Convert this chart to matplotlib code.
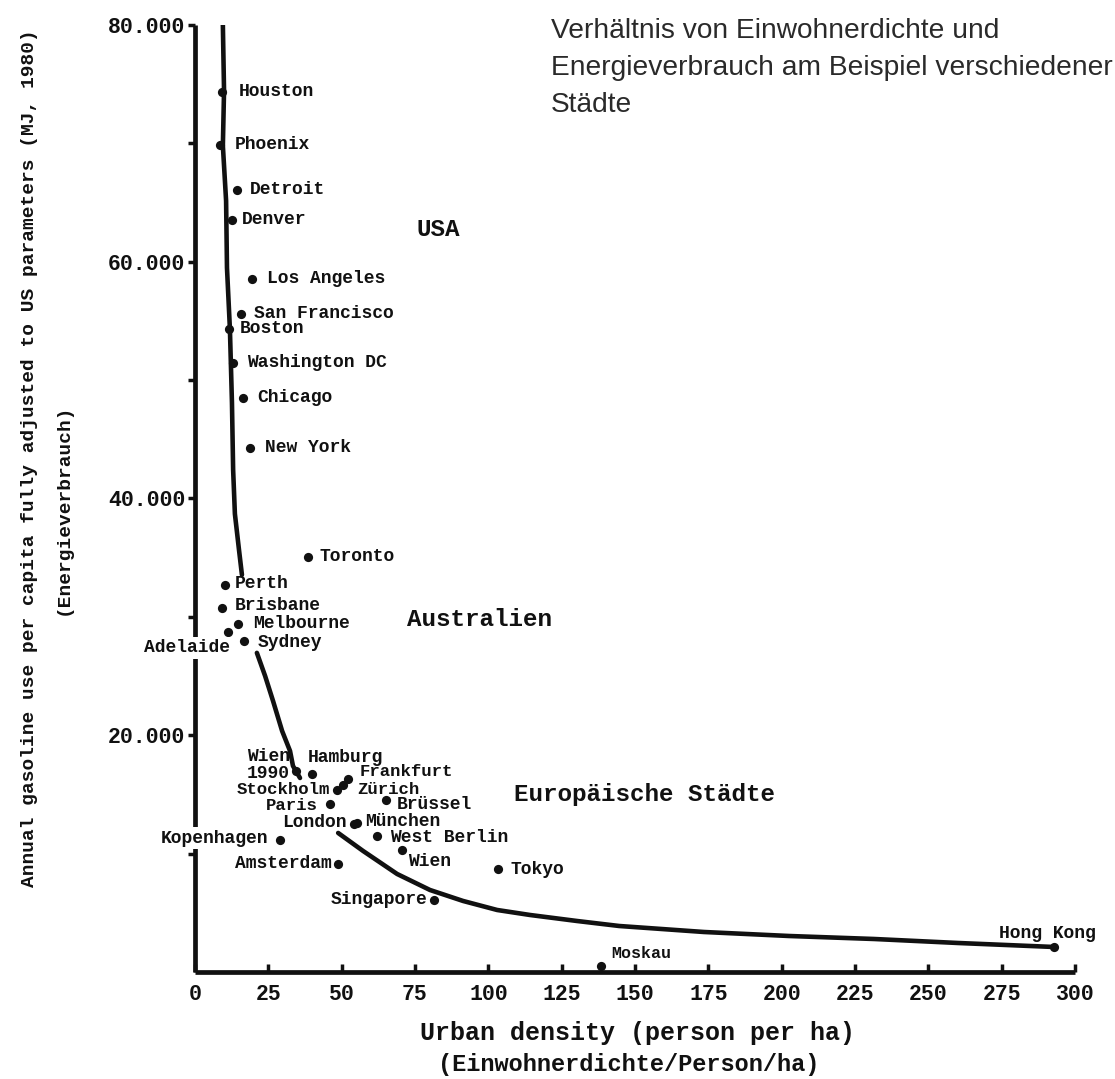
import matplotlib
matplotlib.use("Agg")
import matplotlib.pyplot as plt
import numpy as np

# ---------------- data ----------------
cities = ["Houston", "Phoenix", "Detroit", "Denver", "Los Angeles", "San Francisco",
          "Boston", "Washington DC", "Chicago", "New York", "Toronto",
          "Perth", "Brisbane", "Melbourne", "Adelaide", "Sydney",
          "Wien\n1990", "Hamburg", "Frankfurt", "Zürich", "Stockholm", "Paris",
          "Brüssel", "London", "München", "West Berlin", "Kopenhagen", "Wien",
          "Amsterdam", "Tokyo", "Singapore", "Moskau", "Hong Kong"]
density = [9.2, 8.5, 14.3, 12.6, 19.4, 15.7,
           11.6, 13.0, 16.4, 18.8, 38.5,
           10.2, 9.2, 14.7, 11.3, 16.7,
           34.4, 39.9, 52.2, 50.5, 48.4, 46.0,
           65.1, 54.2, 55.2, 62.1, 29.0, 70.6,
           48.8, 103.3, 81.5, 138.4, 292.9]
gasoline = [74360, 69880, 66080, 63540, 58560, 55600,
            54330, 51460, 48500, 44280, 35070,
            32700, 30760, 29410, 28730, 27970,
            16985, 16730, 16310, 15800, 15380, 14200,
            14530, 12510, 12590, 11490, 11150, 10310,
            9130, 8700, 6080, 510, 2110]

# trend curve (gaps where labels interrupt it)
curve_x = [9.5, 9.9, 9.5, 10.6, 10.9, 11.9, 12.6, 13.0, 13.6, 15.0, 16.0, np.nan,
           21.1, 23.9, 26.6, 29.7, 32.4, 33.4, 35.8, np.nan,
           48.8, 57.3, 68.9, 80.1, 91.4, 103.0, 114.2, 130.2, 144.6, 173.5,
           202.5, 231.5, 260.1, 292.9]
curve_y = [80000, 74440, 69800, 65150, 59490, 54330, 48080, 42420, 38700, 35660, 33550, np.nan,
           26960, 25010, 22900, 20360, 18670, 17410, 16390, np.nan,
           11746, 10225, 8281, 6929, 6000, 5239, 4817, 4310, 3887, 3380,
           3042, 2789, 2451, 2113]

x_ticks = [0, 25, 50, 75, 100, 125, 150, 175, 200, 225, 250, 275, 300]
y_ticks = [10000, 20000, 30000, 40000, 50000, 60000, 70000, 80000]
y_tick_labels = ["", "20.000", "", "40.000", "", "60.000", "", "80.000"]

groups = ["USA", "Australien", "Europäische Städte"]

title_lines = ["Verhältnis von Einwohnerdichte und",
               "Energieverbrauch am Beispiel verschiedener",
               "Städte"]
ylabel_main = "Annual gasoline use per capita fully adjusted to US parameters (MJ, 1980)"
ylabel_sub = "(Energieverbrauch)"
xlabel_main = "Urban density (person per ha)"
xlabel_sub = "(Einwohnerdichte/Person/ha)"

# ---------------- layout ----------------
W, H = 1115, 1079
fig = plt.figure(figsize=(W / 100, H / 100), dpi=100)
fig.patch.set_facecolor("white")

def fx(px):
    return px / W

def fy(py):
    return 1 - py / H

ax_l, ax_r, ax_t, ax_b = 195, 1075, 25, 972
ax = fig.add_axes([fx(ax_l), fy(ax_b), (ax_r - ax_l) / W, (ax_b - ax_t) / H])
ax.set_xlim(0, 300)
ax.set_ylim(0, 80000)
ax.set_facecolor("none")

ink = "#111111"
mono = ["Liberation Mono", "DejaVu Sans Mono"]

for s in ["top", "right"]:
    ax.spines[s].set_visible(False)
for s in ["left", "bottom"]:
    ax.spines[s].set_linewidth(3.4)
    ax.spines[s].set_color(ink)
    ax.spines[s].set_capstyle("butt")

ax.set_xticks(x_ticks)
ax.set_xticklabels([str(v) for v in x_ticks])
ax.set_yticks(y_ticks)
ax.set_yticklabels(y_tick_labels)
ax.tick_params(axis="x", direction="in", length=6, width=2.5, color=ink, pad=9,
               labelsize=15.5, labelcolor=ink)
ax.tick_params(axis="y", direction="out", length=5, width=2.5, color=ink, pad=2,
               labelsize=15.5, labelcolor=ink)
for lab in ax.get_xticklabels() + ax.get_yticklabels():
    lab.set_family(mono)
    lab.set_fontweight("bold")

# curve
ax.plot(curve_x, curve_y, color=ink, lw=3.3, solid_capstyle="round",
        solid_joinstyle="round", zorder=2)

# points
ax.scatter(density, gasoline, s=44, color=ink, zorder=4, linewidths=0)

# label offsets in pixels (dx right, dy down) and alignment
label_pos = {
    "Houston": (17, 0, "left"), "Phoenix": (15, 0, "left"), "Detroit": (13, 0, "left"),
    "Denver": (10, 0, "left"), "Los Angeles": (15, 0, "left"),
    "San Francisco": (13, 0, "left"), "Boston": (11, 0, "left"),
    "Washington DC": (14, 0, "left"), "Chicago": (14, 0, "left"),
    "New York": (15, 0, "left"), "Toronto": (12, 0, "left"),
    "Perth": (10, -1, "left"), "Brisbane": (13, -2, "left"),
    "Melbourne": (15, 0, "left"), "Adelaide": (2, 16, "right"),
    "Sydney": (14, 2, "left"), "Wien\n1990": (-6, -6, "right"),
    "Hamburg": (-4, -16, "left"), "Frankfurt": (12, -7, "left"),
    "Zürich": (14, 5, "left"), "Stockholm": (-7, 0, "right"),
    "Paris": (-12, 2, "right"), "Brüssel": (11, 4, "left"),
    "London": (-7, -1, "right"), "München": (8, -1, "left"),
    "West Berlin": (13, 2, "left"), "Kopenhagen": (-12, -2, "right"),
    "Wien": (6, 12, "left"), "Amsterdam": (-6, 0, "right"),
    "Tokyo": (12, 0, "left"), "Singapore": (-7, -1, "right"),
    "Moskau": (10, -12, "left"), "Hong Kong": (-7, -14, "center"),
}
small = {"Moskau": 12, "Frankfurt": 12.5, "Zürich": 12.5, "Stockholm": 12.5, "Paris": 12.5}
for name, xv, yv in zip(cities, density, gasoline):
    dx, dy, ha = label_pos[name]
    size = small.get(name, 13)
    kw = {}
    if name in ("Adelaide", "Kopenhagen"):
        kw["bbox"] = dict(facecolor="white", edgecolor="none", pad=1.5)
    ax.annotate(name, (xv, yv), xytext=(dx, -dy), textcoords="offset pixels",
                ha=ha, va="center", fontsize=size, fontweight="bold",
                family=mono, color=ink, zorder=5, linespacing=0.95,
                annotation_clip=False, **kw)

# group labels (pixel positions of their left edge / centre line)
group_pos = [(417, 230), (407, 620), (514, 794)]
for g, (px, py) in zip(groups, group_pos):
    fig.text(fx(px), fy(py), g, ha="left", va="center", fontsize=17.5,
             fontweight="bold", family=mono, color=ink)

# axis labels
fig.text(fx(30), fy(458), ylabel_main, rotation=90, ha="center", va="center",
         fontsize=14, fontweight="bold", family=mono, color=ink)
fig.text(fx(63), fy(509), ylabel_sub, rotation=90, ha="center", va="center",
         fontsize=14, fontweight="bold", family=mono, color=ink)
fig.text(fx(637), fy(1033), xlabel_main, ha="center", va="center",
         fontsize=18, fontweight="bold", family=mono, color=ink)
fig.text(fx(629), fy(1065), xlabel_sub, ha="center", va="center",
         fontsize=17, fontweight="bold", family=mono, color=ink)

# title, fitted to the width of its longest line
title_font = ["Liberation Sans", "DejaVu Sans"]
renderer = fig.canvas.get_renderer()
probe = fig.text(0, 0, title_lines[1], fontsize=20, family=title_font)
wpx = probe.get_window_extent(renderer).width
probe.remove()
tsize = 20 * 559 / wpx
for line, py in zip(title_lines, [31, 68, 105]):
    fig.text(fx(551), fy(py), line, ha="left", va="center", fontsize=tsize,
             family=title_font, color="#2a2a2a")

fig.savefig("out.png", dpi=100, facecolor="white")
